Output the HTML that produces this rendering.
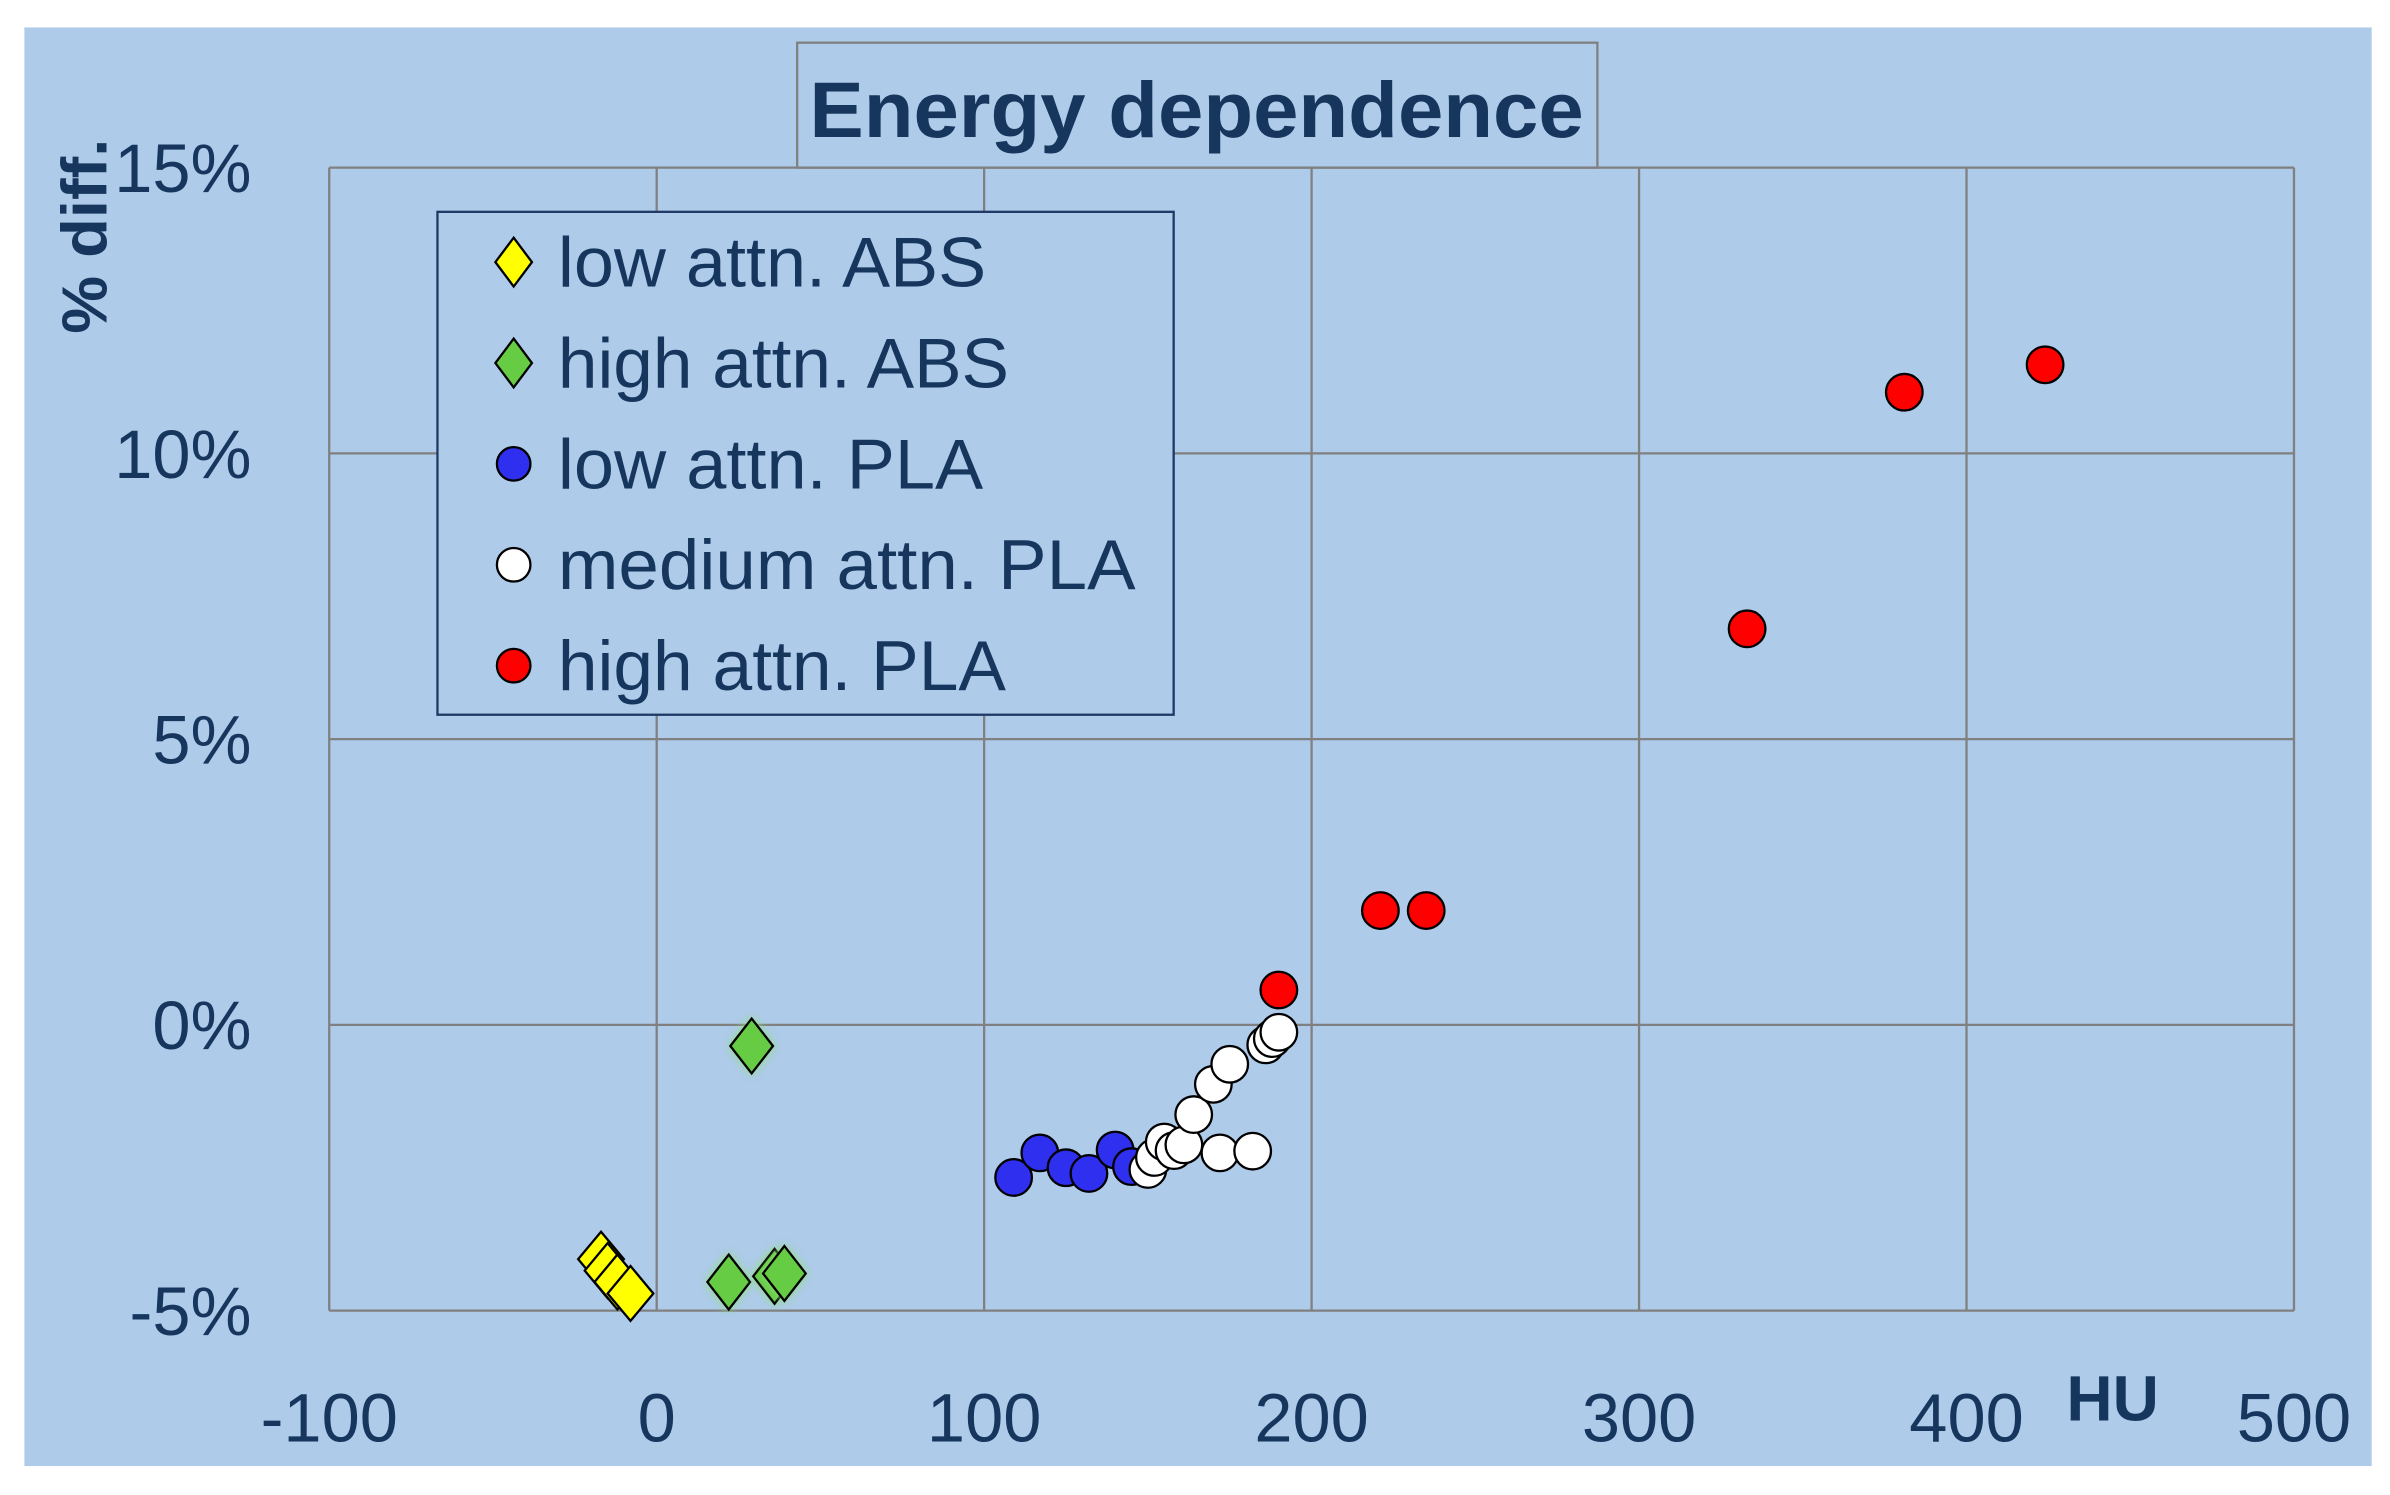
<!DOCTYPE html>
<html><head><meta charset="utf-8"><style>
html,body{margin:0;padding:0;background:#fff;}
svg{display:block;}
text{font-family:"Liberation Sans",sans-serif;fill:#17365d;}
</style></head><body>
<svg id="chart" width="2390" height="1495" viewBox="0 0 1568 981" preserveAspectRatio="none" xmlns="http://www.w3.org/2000/svg">
<rect x="16" y="18" width="1540" height="944" fill="#aecbea"/>
<g id="grid"></g>
<g id="marks"></g>
<g>
<rect x="523" y="28" width="525" height="82" fill="#aecbea" stroke="#808080" stroke-width="1.5"/>
<text x="785" y="90" text-anchor="middle" font-size="52" font-weight="bold" textLength="508" lengthAdjust="spacingAndGlyphs">Energy dependence</text>
</g>
<g id="legend">
<rect x="287" y="139" width="483" height="330" fill="#aecbea" stroke="#1f3864" stroke-width="1.5"/>
</g>
<text transform="translate(70,155) rotate(-90)" text-anchor="middle" font-size="42" font-weight="bold" textLength="128" lengthAdjust="spacingAndGlyphs">% diff.</text>
<text x="1386" y="932" text-anchor="middle" font-size="42" font-weight="bold">HU</text>
</svg>
<script>
const xTicks=[-100,0,100,200,300,400,500];
const yTicks=[-5,0,5,10,15];
const lowAbsX=[-17,-15,-12,-8];
const lowAbsY=[-4.1,-4.3,-4.5,-4.7];
const highAbsX=[29,22,36,39];
const highAbsY=[-0.37,-4.5,-4.4,-4.35];
const lowPlaX=[109,117,125,132,140,145];
const lowPlaY=[-2.67,-2.24,-2.5,-2.6,-2.19,-2.48];
const medPlaX=[150,152,155,158,161,164,170,175,172,182,186,188,190];
const medPlaY=[-2.53,-2.32,-2.05,-2.2,-2.1,-1.57,-1.04,-0.69,-2.24,-2.21,-0.35,-0.24,-0.13];
const highPlaX=[190,221,235,333,381,424];
const highPlaY=[0.61,2.0,2.0,6.93,11.07,11.55];
const seriesNames=["low attn. ABS","high attn. ABS","low attn. PLA","medium attn. PLA","high attn. PLA"];

const NS="http://www.w3.org/2000/svg";
const L=216,R=1505,T=110,B=860;
const X=v=>L+(v+100)/600*(R-L);
const Y=v=>B-(v+5)/20*(B-T);
function mk(tag,attrs,parent){const e=document.createElementNS(NS,tag);for(const k in attrs)e.setAttribute(k,attrs[k]);parent.appendChild(e);return e;}
const grid=document.getElementById('grid');
xTicks.forEach(t=>{
  const l=mk('line',{x1:X(t),x2:X(t),y1:T,y2:B,stroke:'#808080','stroke-width':1.5},grid);
  
  
  const tx=mk('text',{x:X(t),y:946,'text-anchor':'middle','font-size':45},grid);
  tx.textContent=t;
  
  
});
yTicks.forEach(t=>{
  const l=mk('line',{x1:L,x2:R,y1:Y(t),y2:Y(t),stroke:'#808080','stroke-width':1.5},grid);
  
  
  const tx=mk('text',{x:165,y:Y(t)+16,'text-anchor':'end','font-size':45},grid);
  tx.textContent=t+'%';
  
  
});
const marks=document.getElementById('marks');
function diamond(cx,cy,w,h,fill,parent,glow){
  const p=mk('path',{d:`M${cx} ${cy-h}L${cx+w} ${cy}L${cx} ${cy+h}L${cx-w} ${cy}Z`,fill:fill,stroke:'#000','stroke-width':1.5},parent);
  if(glow)p.setAttribute('style','filter:drop-shadow(0 0 3px #8fe07a)');
  return p;
}
function circle(cx,cy,r,fill,parent){return mk('circle',{cx:cx,cy:cy,r:r,fill:fill,stroke:'#000','stroke-width':1.5},parent);}
lowAbsX.forEach((v,i)=>{const p=diamond(X(v),Y(lowAbsY[i]),15,18,'#ffff00',marks);
  
  });
highAbsX.forEach((v,i)=>{const p=diamond(X(v),Y(highAbsY[i]),14,18,'#66cc44',marks,true);
  
  });
lowPlaX.forEach((v,i)=>{const c=circle(X(v),Y(lowPlaY[i]),12,'#2f2ff0',marks);
  
  });
medPlaX.forEach((v,i)=>{const c=circle(X(v),Y(medPlaY[i]),12,'#ffffff',marks);
  
  });
highPlaX.forEach((v,i)=>{const c=circle(X(v),Y(highPlaY[i]),12,'#ff0000',marks);
  
  });
const legend=document.getElementById('legend');
const legendFills=['#ffff00','#66cc44','#2f2ff0','#ffffff','#ff0000'];
const legendWidths=[281,296,279,379,294];
seriesNames.forEach((n,i)=>{
  const cy=172+i*66.2;
  const g=mk('g',{},legend);
  
  
  if(i<2)diamond(337,cy,12,16,legendFills[i],g);else circle(337,cy,11,legendFills[i],g);
  const t=mk('text',{x:366,y:cy+16,'font-size':46,textLength:legendWidths[i],lengthAdjust:'spacingAndGlyphs'},g);
  t.textContent=n;
});
</script>
</body></html>
